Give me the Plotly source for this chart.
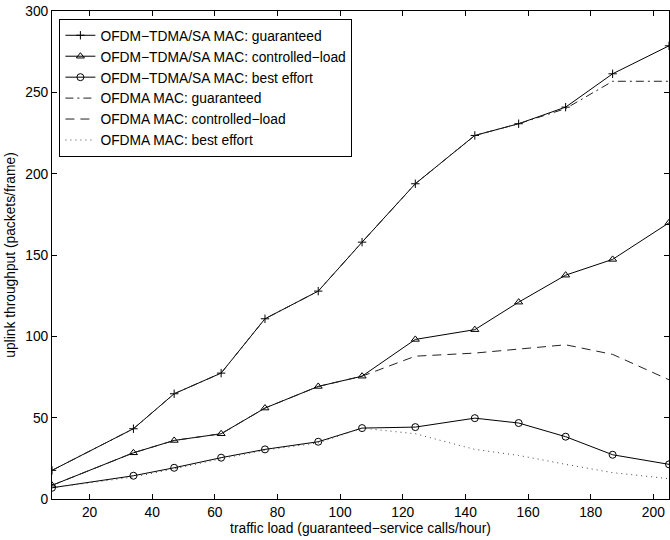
import plotly.graph_objects as go

load = [8, 34, 47, 62, 76, 93, 107, 124, 143, 157, 172, 187, 205]

tdma_guaranteed = [17.6, 43.2, 64.7, 77.4, 110.8, 127.8, 157.9, 193.8, 223.5, 230.7, 240.9, 261.4, 278.6]
tdma_controlled = [8.4, 28.4, 36.0, 40.1, 55.9, 69.2, 75.5, 98.1, 104.1, 121.0, 137.6, 147.3, 169.8]
tdma_best = [6.9, 14.3, 19.2, 25.4, 30.5, 35.2, 43.6, 44.2, 49.7, 46.7, 38.3, 27.2, 21.3]

ofdma_guaranteed = [17.6, 43.2, 64.7, 77.4, 110.8, 127.8, 157.9, 193.8, 223.5, 230.7, 240.0, 256.8, 256.8]
ofdma_controlled = [8.4, 28.4, 36.0, 40.1, 55.9, 69.2, 75.5, 87.8, 89.7, 92.0, 94.8, 88.9, 73.3]
ofdma_best = [6.9, 13.5, 18.5, 24.8, 30.0, 34.5, 43.6, 40.1, 30.5, 26.8, 21.3, 16.2, 12.5]

x_ticks = [20, 40, 60, 80, 100, 120, 140, 160, 180, 200]
y_ticks = [0, 50, 100, 150, 200, 250, 300]

FONT = "Liberation Sans, Arial, Helvetica, sans-serif"
FS = 13.8

fig = go.Figure()

def add(y, name, symbol=None, size=7, dash="solid", color="black"):
    mode = "lines+markers" if symbol else "lines"
    kw = {}
    if symbol:
        kw["marker"] = dict(symbol=symbol, size=size, color="black",
                            line=dict(color="black", width=1))
    fig.add_trace(go.Scatter(x=load, y=y, name=name, mode=mode,
                             line=dict(color=color, width=1, dash=dash), **kw))

add(tdma_guaranteed, "OFDM\u2212TDMA/SA MAC: guaranteed", symbol="cross-thin-open", size=6)
add(tdma_controlled, "OFDM\u2212TDMA/SA MAC: controlled\u2212load", symbol="triangle-up-open", size=7)
add(tdma_best, "OFDM\u2212TDMA/SA MAC: best effort", symbol="circle-open", size=7)
add(ofdma_guaranteed, "OFDMA MAC: guaranteed", dash="8px,4px,2px,4px", color="#222")
add(ofdma_controlled, "OFDMA MAC: controlled\u2212load", dash="9px,6px", color="#222")
add(ofdma_best, "OFDMA MAC: best effort", dash="1px,4px", color="#444")

axis_common = dict(showgrid=False, zeroline=False, showline=True, linecolor="black",
                   linewidth=1, mirror="ticks", ticks="inside", ticklen=5,
                   tickcolor="black", tickwidth=1,
                   tickfont=dict(family=FONT, size=FS, color="black"))

fig.update_xaxes(range=[8, 205], tickvals=x_ticks,
                 title=dict(text="traffic load (guaranteed\u2212service calls/hour)",
                            font=dict(family=FONT, size=FS, color="black"), standoff=4),
                 **axis_common)
fig.update_yaxes(range=[0, 300], tickvals=y_ticks,
                 title=dict(text="uplink throughput (packets/frame)",
                            font=dict(family=FONT, size=FS, color="black"), standoff=6),
                 **axis_common)

fig.update_layout(
    width=670, height=540,
    margin=dict(l=52, r=1, t=11, b=41),
    paper_bgcolor="white", plot_bgcolor="white",
    font=dict(family=FONT, size=FS, color="black"),
    showlegend=True,
    legend=dict(x=0.012, y=0.984, xanchor="left", yanchor="top",
                bgcolor="white", bordercolor="black", borderwidth=1,
                font=dict(family=FONT, size=FS, color="black"),
                itemwidth=30, tracegroupgap=0),
)

fig.write_html("out.html",
               config={"displayModeBar": False},
               post_script="document.body.style.margin='0';document.body.style.overflow='hidden';")
